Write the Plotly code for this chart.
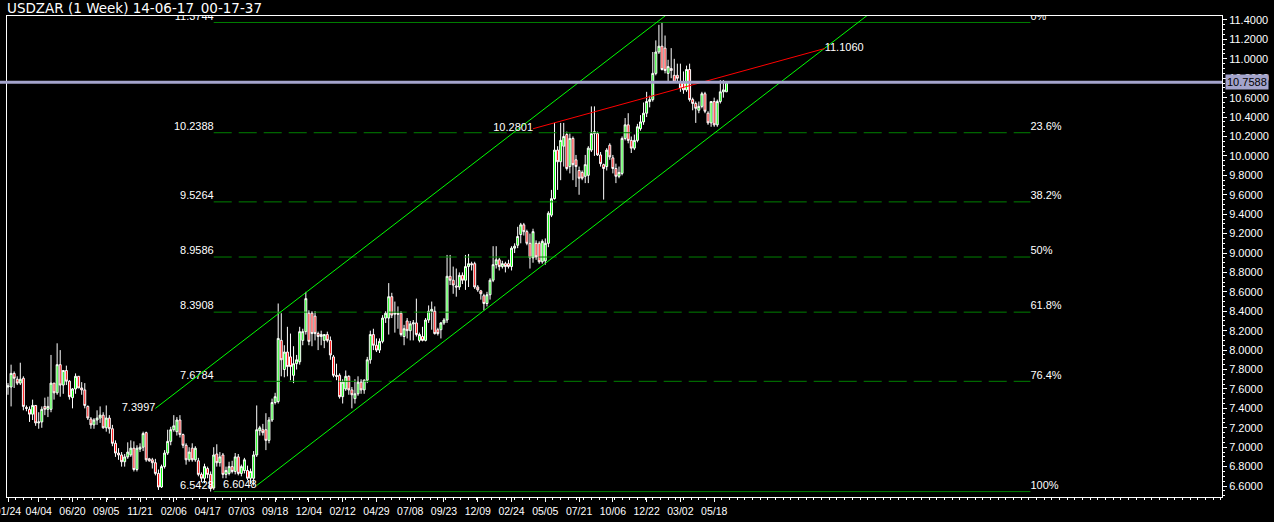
import plotly.graph_objects as go

# ---------------- data ----------------
opens = [
    7.62, 7.62, 7.76, 7.70, 7.66, 7.71, 7.41, 7.39, 7.34, 7.43,
    7.25, 7.26, 7.42, 7.39, 7.39, 7.66, 7.56, 7.85, 7.64, 7.79,
    7.68, 7.51, 7.60, 7.73, 7.61, 7.59, 7.42, 7.29, 7.23, 7.28,
    7.30, 7.33, 7.20, 7.30, 7.19, 7.04, 6.94, 6.92, 6.85, 6.90,
    6.92, 6.99, 6.77, 6.98, 7.00, 7.15, 6.88, 6.87, 6.84, 6.73,
    6.59, 6.80, 6.94, 7.06, 7.18, 7.16, 7.28, 7.13, 7.02, 6.87,
    6.99, 6.87, 6.86, 6.72, 6.68, 6.78, 6.72, 6.58, 6.93, 6.84,
    6.92, 6.72, 6.73, 6.80, 6.75, 6.90, 6.73, 6.76, 6.76, 6.68,
    6.68, 6.92, 7.17, 7.18, 7.18, 7.07, 7.28, 7.46, 7.47, 8.10,
    7.80, 7.98, 7.93, 7.74, 7.86, 7.88, 8.10, 8.19, 8.38, 8.38,
    8.35, 8.17, 8.14, 8.10, 8.16, 8.10, 7.93, 7.74, 7.74, 7.52,
    7.60, 7.73, 7.59, 7.50, 7.55, 7.67, 7.59, 7.69, 7.90, 8.16,
    8.05, 8.00, 8.09, 8.33, 8.33, 8.55, 8.37, 8.38, 8.38, 8.14,
    8.30, 8.20, 8.27, 8.28, 8.10, 8.14, 8.10, 8.31, 8.40, 8.40,
    8.21, 8.21, 8.28, 8.31, 8.76, 8.72, 8.66, 8.65, 8.77, 8.72,
    8.86, 8.89, 8.89, 8.65, 8.61, 8.56, 8.48, 8.57, 8.72, 8.88,
    8.93, 8.86, 8.89, 8.89, 8.86, 9.05, 9.08, 9.19, 9.29, 9.22,
    9.10, 8.95, 9.10, 9.10, 8.91, 8.92, 9.10, 9.39, 9.56, 10.06,
    9.94, 10.10, 10.22, 9.89, 10.18, 9.96, 9.85, 9.83, 9.79, 9.80,
    10.06, 10.23, 10.23, 10.01, 9.91, 9.89, 10.11, 9.98, 9.87, 9.79,
    9.82, 10.18, 10.32, 10.16, 10.08, 10.16, 10.28, 10.35, 10.44, 10.56,
    10.58, 10.85, 11.07, 11.13, 11.11, 10.85, 10.90, 10.83, 10.83, 10.76,
    10.75, 10.68, 10.89, 10.58, 10.54, 10.47, 10.51, 10.64, 10.44, 10.34,
    10.56, 10.32, 10.56, 10.66, 10.66,
]
highs = [
    7.66, 7.85, 7.78, 7.73, 7.87, 7.73, 7.43, 7.42, 7.49, 7.43,
    7.36, 7.42, 7.51, 7.52, 7.95, 7.66, 8.07, 8.00, 7.79, 7.84,
    7.69, 7.61, 7.76, 7.73, 7.67, 7.66, 7.43, 7.31, 7.30, 7.38,
    7.42, 7.36, 7.43, 7.33, 7.23, 7.07, 6.99, 6.95, 6.93, 7.05,
    7.07, 7.06, 7.02, 7.04, 7.16, 7.16, 6.89, 6.89, 6.88, 6.77,
    6.82, 6.97, 7.18, 7.21, 7.33, 7.31, 7.33, 7.14, 7.04, 7.00,
    7.04, 7.01, 6.89, 6.74, 6.83, 6.80, 6.75, 7.00, 7.03, 6.95,
    6.94, 6.80, 6.85, 6.86, 6.94, 6.93, 6.82, 6.89, 6.81, 6.78,
    6.96, 7.43, 7.22, 7.24, 7.35, 7.31, 7.50, 7.56, 8.48, 8.38,
    8.05, 8.24, 8.17, 8.04, 7.95, 8.24, 8.22, 8.60, 8.41, 8.40,
    8.40, 8.19, 8.20, 8.16, 8.19, 8.14, 7.95, 7.86, 7.76, 7.70,
    7.79, 7.74, 7.62, 7.70, 7.73, 7.70, 7.70, 7.93, 8.20, 8.22,
    8.12, 8.12, 8.36, 8.40, 8.69, 8.59, 8.50, 8.45, 8.40, 8.26,
    8.33, 8.30, 8.31, 8.53, 8.18, 8.24, 8.33, 8.46, 8.50, 8.45,
    8.23, 8.29, 8.33, 8.98, 8.98, 8.86, 8.84, 8.80, 8.80, 8.98,
    8.99, 8.91, 8.91, 8.67, 8.62, 8.58, 8.60, 8.74, 9.07, 9.07,
    8.95, 8.92, 8.91, 8.93, 9.07, 9.10, 9.27, 9.31, 9.31, 9.24,
    9.20, 9.25, 9.13, 9.12, 9.14, 9.15, 9.43, 9.65, 10.34, 10.10,
    10.34, 10.34, 10.25, 10.23, 10.20, 10.01, 9.89, 9.85, 10.01, 10.10,
    10.51, 10.51, 10.25, 10.04, 9.92, 10.08, 10.13, 10.01, 9.92, 9.89,
    10.20, 10.39, 10.44, 10.20, 10.22, 10.33, 10.42, 10.55, 10.66, 10.62,
    11.07, 11.19, 11.35, 11.3744, 11.24, 10.99, 11.11, 11.00, 10.95, 10.95,
    10.87, 10.93, 10.95, 10.60, 10.56, 10.56, 10.66, 10.66, 10.46, 10.56,
    10.60, 10.58, 10.78, 10.78, 10.77,
]
lows = [
    7.54, 7.42, 7.61, 7.64, 7.64, 7.38, 7.37, 7.26, 7.28, 7.22,
    7.19, 7.20, 7.33, 7.31, 7.36, 7.49, 7.54, 7.52, 7.55, 7.64,
    7.49, 7.40, 7.55, 7.61, 7.54, 7.40, 7.28, 7.19, 7.19, 7.23,
    7.25, 7.19, 7.16, 7.14, 7.01, 6.90, 6.87, 6.80, 6.80, 6.88,
    6.90, 6.75, 6.75, 6.95, 6.96, 6.85, 6.85, 6.78, 6.71, 6.56,
    6.58, 6.78, 6.92, 7.02, 7.16, 7.12, 7.10, 6.99, 6.82, 6.85,
    6.85, 6.85, 6.70, 6.64, 6.63, 6.68, 6.5428, 6.56, 6.80, 6.80,
    6.68, 6.68, 6.71, 6.73, 6.72, 6.71, 6.70, 6.73, 6.66, 6.62,
    6.6048, 6.90, 7.12, 7.12, 6.97, 7.04, 7.26, 7.44, 7.45, 7.73,
    7.72, 7.73, 7.69, 7.66, 7.80, 7.85, 8.05, 8.16, 8.05, 8.04,
    8.10, 8.00, 8.05, 8.02, 8.08, 7.90, 7.72, 7.69, 7.50, 7.45,
    7.58, 7.54, 7.40, 7.45, 7.53, 7.55, 7.55, 7.66, 7.86, 8.00,
    7.98, 7.97, 8.07, 8.28, 8.16, 8.33, 8.18, 8.22, 8.14, 8.05,
    8.12, 8.10, 8.10, 8.14, 8.08, 8.09, 8.09, 8.28, 8.21, 8.16,
    8.15, 8.12, 8.26, 8.28, 8.67, 8.58, 8.55, 8.62, 8.68, 8.62,
    8.65, 8.82, 8.63, 8.60, 8.52, 8.41, 8.45, 8.52, 8.70, 8.84,
    8.82, 8.84, 8.80, 8.84, 8.82, 9.00, 9.05, 9.10, 9.18, 9.08,
    8.84, 8.90, 8.93, 8.89, 8.89, 8.88, 9.06, 9.37, 9.55, 9.65,
    9.75, 9.89, 9.85, 9.82, 9.75, 9.68, 9.60, 9.75, 9.72, 9.72,
    10.04, 10.00, 10.00, 9.89, 9.55, 9.85, 9.96, 9.82, 9.72, 9.77,
    9.80, 10.16, 10.13, 10.03, 10.06, 10.14, 10.26, 10.32, 10.40, 10.50,
    10.56, 10.83, 11.05, 10.88, 10.85, 10.76, 10.80, 10.76, 10.77, 10.66,
    10.64, 10.66, 10.56, 10.47, 10.34, 10.44, 10.49, 10.44, 10.32, 10.30,
    10.30, 10.30, 10.54, 10.60, 10.66,
]
closes = [
    7.63, 7.76, 7.71, 7.66, 7.70, 7.42, 7.40, 7.34, 7.43, 7.25,
    7.26, 7.39, 7.39, 7.42, 7.66, 7.56, 7.85, 7.64, 7.79, 7.68,
    7.52, 7.60, 7.73, 7.61, 7.59, 7.43, 7.30, 7.23, 7.28, 7.30,
    7.33, 7.20, 7.30, 7.19, 7.04, 6.94, 6.92, 6.85, 6.90, 6.95,
    6.99, 6.77, 6.99, 7.00, 7.14, 6.87, 6.86, 6.84, 6.73, 6.59,
    6.80, 6.94, 7.06, 7.18, 7.22, 7.28, 7.13, 7.02, 6.87, 6.95,
    6.87, 6.99, 6.72, 6.68, 6.80, 6.72, 6.58, 6.92, 6.84, 6.90,
    6.72, 6.76, 6.80, 6.75, 6.90, 6.73, 6.80, 6.87, 6.68, 6.75,
    6.92, 7.18, 7.20, 7.15, 7.07, 7.28, 7.46, 7.52, 8.12, 7.90,
    7.98, 7.83, 7.83, 7.86, 7.90, 8.19, 8.19, 8.53, 8.09, 8.17,
    8.17, 8.14, 8.16, 8.16, 8.10, 7.95, 7.74, 7.73, 7.52, 7.67,
    7.73, 7.59, 7.54, 7.55, 7.67, 7.59, 7.69, 7.90, 8.16, 8.05,
    8.00, 8.09, 8.33, 8.38, 8.55, 8.36, 8.38, 8.37, 8.16, 8.22,
    8.20, 8.27, 8.28, 8.16, 8.16, 8.10, 8.31, 8.40, 8.42, 8.17,
    8.17, 8.28, 8.31, 8.76, 8.72, 8.67, 8.65, 8.77, 8.72, 8.86,
    8.89, 8.88, 8.65, 8.62, 8.58, 8.48, 8.57, 8.72, 8.88, 8.93,
    8.86, 8.89, 8.86, 8.86, 9.05, 9.07, 9.17, 9.29, 9.22, 9.10,
    8.95, 9.22, 8.96, 8.91, 9.12, 9.10, 9.41, 9.56, 10.06, 9.94,
    10.16, 10.20, 9.87, 10.18, 9.91, 9.89, 9.77, 9.77, 9.91, 10.08,
    10.23, 10.25, 10.01, 9.92, 9.87, 10.06, 9.99, 9.87, 9.79, 9.83,
    10.18, 10.32, 10.16, 10.08, 10.16, 10.30, 10.35, 10.44, 10.56, 10.58,
    10.85, 11.07, 11.13, 10.89, 10.88, 10.92, 10.88, 10.76, 10.80, 10.70,
    10.68, 10.89, 10.58, 10.54, 10.49, 10.51, 10.64, 10.46, 10.34, 10.56,
    10.32, 10.56, 10.66, 10.68, 10.7588,
]
bars = list(range(len(opens)))

tick_bars = [0, 10, 21, 32, 43, 54, 65, 76, 87, 98, 109, 120, 131, 142,
             153, 164, 175, 186, 197, 208, 219, 230]
tick_labels = ["01/24", "04/04", "06/20", "09/05", "11/21", "02/06", "04/17",
               "07/03", "09/18", "12/04", "02/12", "04/29", "07/08", "09/23",
               "12/09", "02/24", "05/05", "07/21", "10/06", "12/22", "03/02",
               "05/18"]

fib_levels = [11.3744, 10.2388, 9.5264, 8.9586, 8.3908, 7.6784, 6.5428]
fib_value_labels = ["11.3744", "10.2388", "9.5264", "8.9586", "8.3908",
                    "7.6784", "6.5428"]
fib_pct_labels = ["0%", "23.6%", "38.2%", "50%", "61.8%", "76.4%", "100%"]
fib_bars = [67, 333]

upper_channel_bars = [48, 216]
upper_channel_prices = [7.3997, 11.4904]
lower_channel_bars = [81, 283]
lower_channel_prices = [6.6048, 11.5235]
channel_labels = ["7.3997", "6.6048"]

red_line_bars = [171, 266]
red_line_prices = [10.2801, 11.1060]
red_line_labels = ["10.2801", "11.1060"]

last_price = 10.7588
title_text = "USDZAR (1 Week) 14-06-17_00-17-37"

# ---------------- figure ----------------
FONT = "Liberation Sans"
WHITE = "#ffffff"
fig = go.Figure()

# fibonacci levels
for i, lvl in enumerate(fib_levels):
    solid = i in (0, len(fib_levels) - 1)
    fig.add_trace(go.Scatter(
        x=fib_bars, y=[lvl, lvl], mode="lines",
        line=dict(color="#008000", width=1, dash="solid" if solid else "18px,7px"),
        hoverinfo="skip", showlegend=False))
fig.add_trace(go.Scatter(
    x=[fib_bars[0]] * len(fib_levels), y=fib_levels, mode="text",
    text=fib_value_labels, textposition="top left",
    textfont=dict(color=WHITE, size=11, family=FONT),
    hoverinfo="skip", showlegend=False))
fig.add_trace(go.Scatter(
    x=[fib_bars[1]] * len(fib_levels), y=fib_levels, mode="text",
    text=fib_pct_labels, textposition="top right",
    textfont=dict(color=WHITE, size=11, family=FONT),
    hoverinfo="skip", showlegend=False))

# channel
for bx, py in ((upper_channel_bars, upper_channel_prices),
               (lower_channel_bars, lower_channel_prices)):
    fig.add_trace(go.Scatter(x=bx, y=py, mode="lines",
                             line=dict(color="#00ff00", width=1),
                             hoverinfo="skip", showlegend=False))
fig.add_trace(go.Scatter(
    x=[upper_channel_bars[0], lower_channel_bars[0]],
    y=[upper_channel_prices[0], lower_channel_prices[0]],
    mode="text", text=channel_labels, textposition="middle left",
    textfont=dict(color=WHITE, size=11, family=FONT),
    hoverinfo="skip", showlegend=False))

# red trend line
fig.add_trace(go.Scatter(x=red_line_bars, y=red_line_prices, mode="lines",
                         line=dict(color="#ff0000", width=1),
                         hoverinfo="skip", showlegend=False))
fig.add_trace(go.Scatter(
    x=red_line_bars, y=red_line_prices, mode="text", text=red_line_labels,
    textposition=["middle left", "middle right"],
    textfont=dict(color=WHITE, size=11, family=FONT),
    hoverinfo="skip", showlegend=False))

# candles
fig.add_trace(go.Candlestick(
    x=bars, open=opens, high=highs, low=lows, close=closes,
    increasing=dict(fillcolor="#00ff00", line=dict(color=WHITE, width=1)),
    decreasing=dict(fillcolor="#ff0000", line=dict(color=WHITE, width=1)),
    whiskerwidth=0, hoverinfo="skip", showlegend=False))

# current price line
fig.add_shape(type="line", xref="x domain", x0=-0.01, x1=1, yref="y",
              y0=last_price, y1=last_price,
              line=dict(color="#a4a4cc", width=3), layer="above")
fig.add_annotation(xref="paper", x=1, xanchor="left", xshift=3,
                   yref="y", y=last_price, yanchor="middle",
                   text=f"{last_price:.4f}", showarrow=False,
                   bgcolor="#a4a4cc", borderpad=1,
                   font=dict(color="#000000", size=11, family=FONT))

fig.add_annotation(xref="paper", x=0, xanchor="left", xshift=-2,
                   yref="paper", y=1, yanchor="middle", yshift=8,
                   text=title_text, showarrow=False,
                   font=dict(color=WHITE, size=13.5, family="DejaVu Sans"))

fig.update_layout(
    width=1274, height=522,
    margin=dict(l=7, r=52, t=16, b=25, autoexpand=False),
    paper_bgcolor="#000000", plot_bgcolor="#000000",
    showlegend=False, hovermode=False, boxgap=0.1,
    xaxis=dict(range=[-0.33, 395.4], tickmode="array", tickvals=tick_bars,
               ticktext=tick_labels, ticks="outside", ticklen=4,
               tickcolor=WHITE, showgrid=False, zeroline=False,
               showline=True, linecolor=WHITE, linewidth=1, mirror=True,
               automargin=False, ticklabeloverflow="allow",
               tickfont=dict(color=WHITE, size=10.5, family=FONT),
               rangeslider=dict(visible=False),
               minor=dict(ticks="outside", ticklen=2, tickcolor=WHITE,
                          tickmode="linear", tick0=0, dtick=2.5)),
    yaxis=dict(range=[6.487, 11.441], side="right", tick0=6.6, dtick=0.2,
               tickformat=".4f", ticks="outside", ticklen=4, tickcolor=WHITE,
               showgrid=False, zeroline=False, showline=True, linecolor=WHITE,
               linewidth=1, mirror=True, automargin=False,
               ticklabeloverflow="allow",
               tickfont=dict(color=WHITE, size=11, family=FONT),
               minor=dict(ticks="outside", ticklen=2, tickcolor=WHITE,
                          dtick=0.05)),
)

fig.write_html(
    "out.html",
    config={"displayModeBar": False, "staticPlot": True},
    post_script="document.body.style.margin='0px';"
                "document.body.style.background='#000000';",
)
